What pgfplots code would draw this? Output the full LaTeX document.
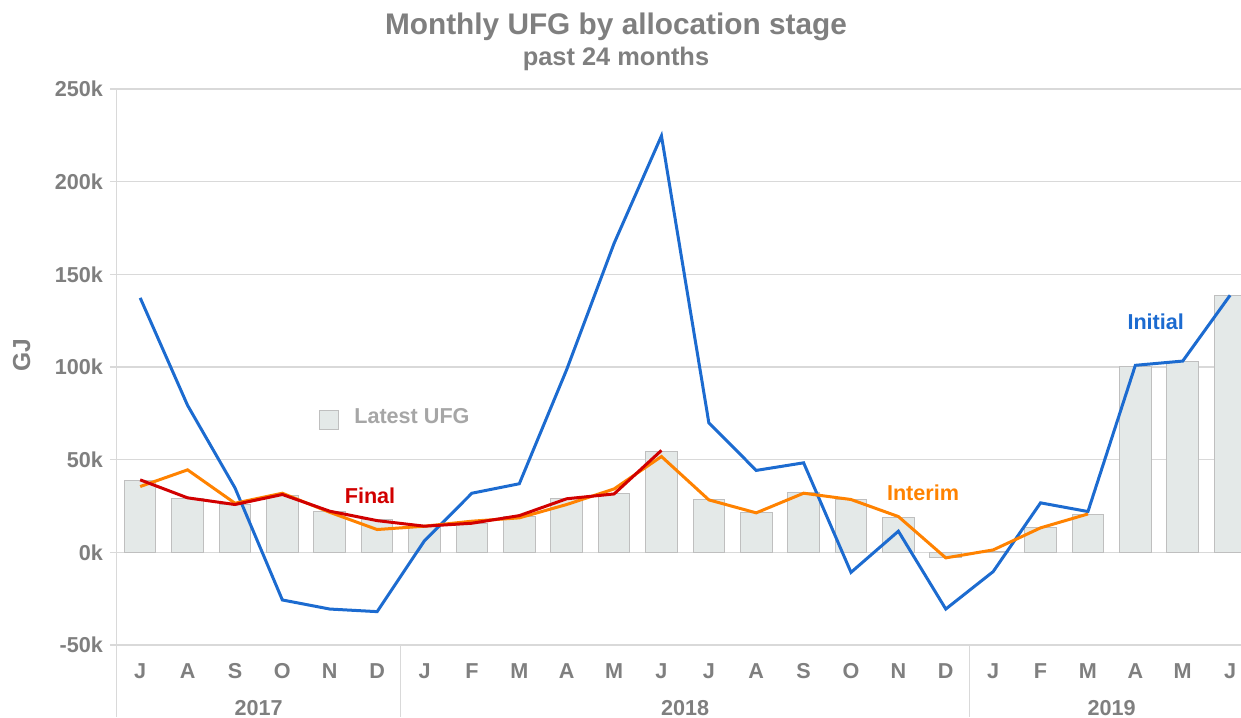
\documentclass[border=0pt]{standalone}
\usepackage{pgfplots}
\pgfplotsset{compat=1.18}
\usepackage{fontspec}
\setmainfont{Liberation Sans}
\definecolor{txtgray}{HTML}{7F7F7F}
\definecolor{leggray}{HTML}{A6A6A6}
\definecolor{gridgray}{HTML}{D9D9D9}
\definecolor{barfill}{HTML}{E4E9E8}
\definecolor{baredge}{HTML}{BFBFBF}
\definecolor{cinit}{HTML}{1C6BD0}
\definecolor{cinter}{HTML}{FF8200}
\definecolor{cfinal}{HTML}{D10000}
\newcommand{\lblfont}{\fontsize{10.8}{13}\selectfont\bfseries}
\begin{document}
\begin{tikzpicture}
\useasboundingbox (0pt,0pt) rectangle (620.5pt,358.5pt);
\node[font=\fontsize{14.9}{18}\selectfont\bfseries, text=txtgray] at (308pt,345pt) {Monthly UFG by allocation stage};
\node[font=\fontsize{12.7}{15}\selectfont\bfseries, text=txtgray] at (308pt,329pt) {past 24 months};
\node[font=\fontsize{12.3}{15}\selectfont\bfseries, text=txtgray, rotate=90] at (10.85pt,181pt) {GJ};
\begin{axis}[
  at={(58.25pt,36pt)}, anchor=south west,
  scale only axis, width=562.25pt, height=278pt,
  xmin=-0.5, xmax=23.23, ymin=-50000, ymax=250000,
  clip mode=individual,
  axis line style={draw=none},
  xtick={0,...,23},
  xticklabels={J,A,S,O,N,D,J,F,M,A,M,J,J,A,S,O,N,D,J,F,M,A,M,J},
  xtick style={draw=none},
  xticklabel style={anchor=center, yshift=-9.65pt, font=\lblfont, text=txtgray},
  ytick={-50000,0,50000,100000,150000,200000,250000},
  yticklabels={-50k,0k,50k,100k,150k,200k,250k},
  yticklabel style={font=\lblfont, text=txtgray},
  ytick style={draw=gridgray, line width=0.6pt},
  tick align=outside, major tick length=3.25pt,
  ymajorgrids, major grid style={draw=gridgray, line width=0.6pt},
  scaled y ticks=false,
]
\addplot[ybar, bar width=15.8pt, bar shift=0pt, fill=barfill, draw=baredge, line width=0.5pt] coordinates {
(0,38800) (1,29000) (2,25800) (3,30800) (4,22000) (5,17500)
(6,14400) (7,15300) (8,19600) (9,28900) (10,31500) (11,54600)
(12,28300) (13,21600) (14,32100) (15,28300) (16,18600) (17,-3000)
(18,700) (19,13200) (20,20200) (21,100500) (22,102700) (23,138400)};
\addplot[cinit, line width=1.5pt] coordinates {
(0,137300) (1,79300) (2,34800) (3,-25700) (4,-30600) (5,-32000)
(6,6300) (7,31900) (8,37000) (9,98600) (10,166700) (11,224700)
(12,69900) (13,44200) (14,48300) (15,-10800) (16,11400) (17,-30600)
(18,-10400) (19,26700) (20,22000) (21,100900) (22,103200) (23,138700)};
\addplot[cinter, line width=1.5pt] coordinates {
(0,35500) (1,44500) (2,26500) (3,31900) (4,21600) (5,12300)
(6,14100) (7,16800) (8,18600) (9,25800) (10,34200) (11,51700)
(12,28300) (13,21300) (14,31900) (15,28500) (16,19300) (17,-3000)
(18,1300) (19,13200) (20,20700)};
\addplot[cfinal, line width=1.5pt] coordinates {
(0,39100) (1,29400) (2,25800) (3,31200) (4,22200) (5,17100)
(6,14100) (7,15700) (8,19800) (9,28900) (10,31500) (11,55000)};
\node[font=\lblfont, text=cfinal] at (axis cs:4.85,30600) {Final};
\node[font=\lblfont, text=cinter] at (axis cs:16.52,32300) {Interim};
\node[font=\lblfont, text=cinit] at (axis cs:21.43,124200) {Initial};
\node[draw=baredge, fill=barfill, minimum size=9.5pt, inner sep=0pt, line width=0.5pt] at (axis cs:3.99,71200) {};
\node[font=\lblfont, text=leggray, anchor=west, inner sep=0pt] at (axis cs:4.51,73300) {Latest UFG};
\node[font=\lblfont, text=txtgray] at (axis cs:2.5,-50000) [yshift=-31.5pt] {2017};
\node[font=\lblfont, text=txtgray] at (axis cs:11.5,-50000) [yshift=-31.5pt] {2018};
\node[font=\lblfont, text=txtgray] at (axis cs:20.5,-50000) [yshift=-31.5pt] {2019};
\coordinate (s1) at (axis cs:5.5,-50000);
\coordinate (s2) at (axis cs:17.5,-50000);
\coordinate (s0) at (axis cs:-0.5,-50000);
\coordinate (top) at (axis cs:-0.5,250000);
\end{axis}
\draw[gridgray, line width=0.6pt] (top) -- (58.25pt,0pt);
\draw[gridgray, line width=0.6pt] (s1) -- ++(0pt,-36pt);
\draw[gridgray, line width=0.6pt] (s2) -- ++(0pt,-36pt);
\end{tikzpicture}
\end{document}
